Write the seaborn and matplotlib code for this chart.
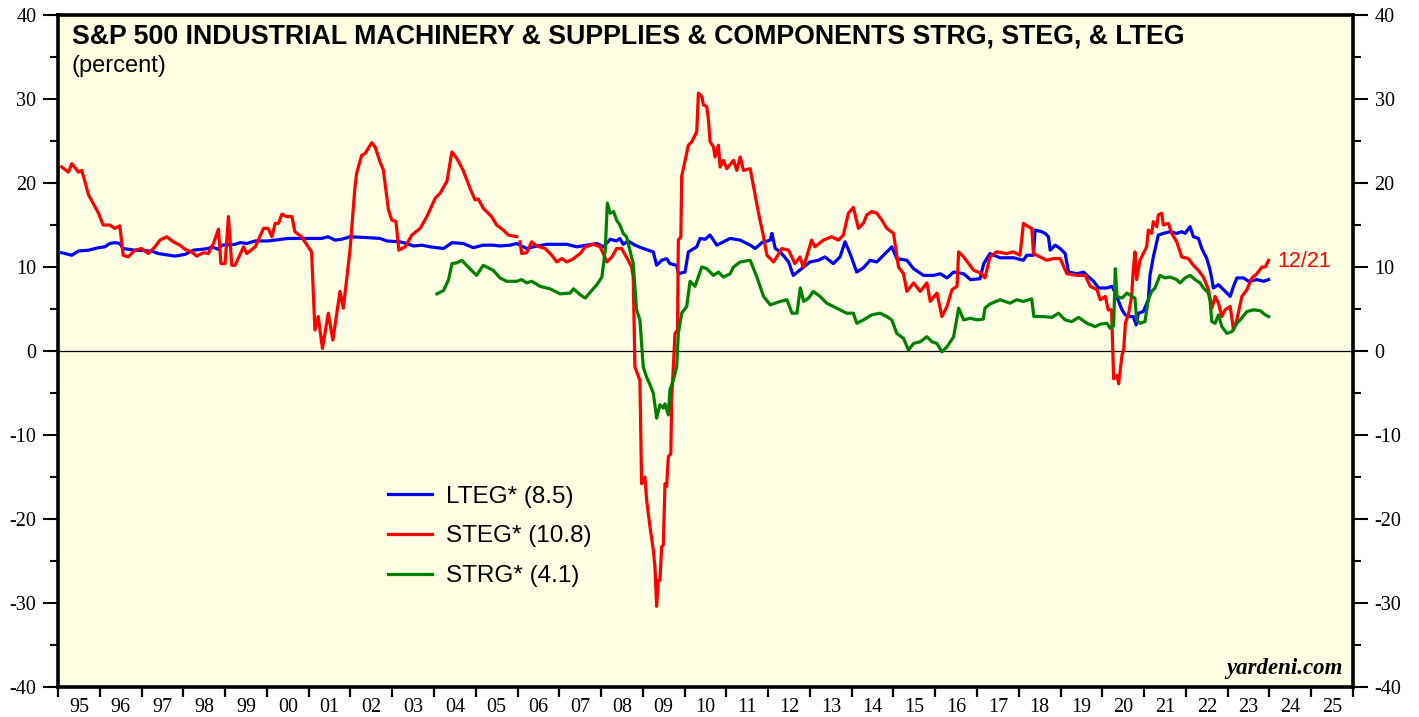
import numpy as np
import pandas as pd
import matplotlib
matplotlib.use('Agg')
import matplotlib.pyplot as plt
import seaborn as sns

# LTEG (blue)
lteg_dates = [1995.09, 1995.33, 1995.49, 1995.73, 1995.97, 1996.12, 1996.24, 1996.36, 1996.48, 1996.56,
              1996.84, 1997.24, 1997.40, 1997.80, 1998.04, 1998.24, 1998.60, 1998.68, 1998.84, 1998.92,
              1999.24, 1999.36, 1999.52, 1999.72, 2000.03, 2000.51, 2001.31, 2001.47, 2001.63, 2001.79,
              2001.99, 2002.40, 2002.71, 2002.87, 2003.18, 2003.35, 2003.51, 2003.71, 2003.91, 2004.23,
              2004.43, 2004.70, 2004.94, 2005.18, 2005.42, 2005.58, 2005.82, 2005.98, 2006.22, 2006.38,
              2006.70, 2007.18, 2007.42, 2007.66, 2007.90, 2008.06, 2008.22, 2008.37, 2008.45, 2008.53,
              2008.65, 2008.81, 2009.01, 2009.25, 2009.33, 2009.45, 2009.57, 2009.65, 2009.81, 2009.85,
              2010.01, 2010.09, 2010.29, 2010.37, 2010.49, 2010.61, 2010.77, 2010.93, 2011.09, 2011.33,
              2011.57, 2011.69, 2011.85, 2012.05, 2012.09, 2012.17, 2012.29, 2012.49, 2012.60, 2012.80,
              2013.00, 2013.20, 2013.36, 2013.56, 2013.72, 2013.84, 2013.96, 2014.12, 2014.28, 2014.44,
              2014.60, 2014.72, 2014.96, 2015.08, 2015.32, 2015.48, 2015.72, 2015.96, 2016.12, 2016.28,
              2016.44, 2016.68, 2016.84, 2017.07, 2017.16, 2017.31, 2017.55, 2017.87, 2018.11, 2018.19,
              2018.35, 2018.39, 2018.55, 2018.63, 2018.71, 2018.75, 2018.87, 2018.99, 2019.11, 2019.19,
              2019.39, 2019.55, 2019.63, 2019.79, 2019.91, 2020.11, 2020.23, 2020.31, 2020.39, 2020.47,
              2020.55, 2020.67, 2020.74, 2020.81, 2020.86, 2020.98, 2021.10, 2021.14, 2021.22, 2021.34,
              2021.46, 2021.62, 2021.78, 2021.90, 2021.98, 2022.10, 2022.18, 2022.30, 2022.38, 2022.50,
              2022.58, 2022.66, 2022.78, 2022.90, 2023.06, 2023.14, 2023.22, 2023.38, 2023.50, 2023.70,
              2023.86, 2023.98]
lteg_vals = [11.7, 11.4, 11.9, 12.0, 12.3, 12.4, 12.8, 12.9, 12.8, 12.2,
             12.0, 11.9, 11.6, 11.3, 11.5, 12.0, 12.2, 12.4, 12.1, 12.6,
             12.7, 12.9, 12.8, 13.1, 13.1, 13.4, 13.4, 13.6, 13.2, 13.3,
             13.6, 13.5, 13.4, 13.1, 13.0, 12.8, 12.5, 12.6, 12.4, 12.2,
             12.9, 12.8, 12.3, 12.6, 12.6, 12.5, 12.6, 12.8, 12.2, 12.4,
             12.7, 12.7, 12.4, 12.6, 12.8, 12.4, 13.3, 13.1, 13.4, 12.7,
             13.1, 12.6, 12.2, 11.8, 10.2, 10.8, 11.0, 10.4, 10.2, 9.2,
             9.4, 11.8, 12.4, 13.4, 13.3, 13.8, 12.6, 13.0, 13.4, 13.2,
             12.6, 12.2, 12.9, 13.2, 14.0, 12.2, 11.8, 10.6, 9.0, 9.8,
             10.6, 10.8, 11.2, 10.4, 11.2, 13.0, 11.6, 9.4, 9.9, 10.8,
             10.6, 11.2, 12.4, 11.0, 10.8, 9.8, 9.0, 9.0, 9.2, 8.7,
             9.4, 9.2, 8.5, 8.6, 10.4, 11.6, 11.1, 11.1, 10.8, 11.4,
             11.4, 14.4, 14.2, 14.0, 13.6, 12.0, 12.6, 12.2, 11.6, 9.4,
             9.2, 9.4, 9.0, 8.3, 7.5, 7.5, 7.7, 6.9, 5.9, 4.9,
             4.3, 4.1, 4.1, 3.1, 4.5, 4.7, 6.1, 9.0, 11.2, 13.8,
             14.0, 14.2, 14.0, 14.2, 14.0, 14.8, 13.6, 13.4, 12.2, 11.0,
             9.6, 7.5, 7.9, 7.3, 6.5, 7.7, 8.7, 8.7, 8.3, 8.5,
             8.3, 8.5]

# STEG (red), first stretch before the break in early 2006
steg_dates_a = [1995.09, 1995.25, 1995.33, 1995.49, 1995.57, 1995.73, 1995.97, 1996.08, 1996.24, 1996.36,
                1996.48, 1996.56, 1996.68, 1996.84, 1997.00, 1997.16, 1997.32, 1997.44, 1997.60, 1997.76,
                1997.92, 1998.04, 1998.20, 1998.32, 1998.48, 1998.60, 1998.72, 1998.84, 1998.90, 1999.00,
                1999.08, 1999.16, 1999.24, 1999.44, 1999.52, 1999.72, 1999.92, 2000.03, 2000.12, 2000.20,
                2000.28, 2000.36, 2000.47, 2000.60, 2000.67, 2000.83, 2000.99, 2001.07, 2001.15, 2001.23,
                2001.33, 2001.47, 2001.58, 2001.75, 2001.83, 2001.99, 2002.11, 2002.15, 2002.27, 2002.35,
                2002.51, 2002.59, 2002.71, 2002.79, 2002.91, 2002.99, 2003.09, 2003.16, 2003.31, 2003.47,
                2003.67, 2003.83, 2004.03, 2004.15, 2004.31, 2004.43, 2004.55, 2004.70, 2004.86, 2004.98,
                2005.06, 2005.18, 2005.38, 2005.50, 2005.66, 2005.78, 2005.98]
steg_vals_a = [21.9, 21.3, 22.3, 21.3, 21.5, 18.6, 16.4, 15.0, 15.0, 14.6,
               14.9, 11.4, 11.2, 12.0, 12.2, 11.6, 12.4, 13.2, 13.6, 13.0,
               12.6, 12.1, 11.8, 11.3, 11.7, 11.6, 12.8, 14.5, 10.4, 10.4,
               16.0, 10.2, 10.2, 12.4, 11.6, 12.4, 14.6, 14.6, 13.6, 15.2,
               15.2, 16.3, 16.0, 16.0, 14.2, 13.6, 12.4, 11.8, 2.5, 4.1,
               0.3, 4.5, 1.3, 7.1, 5.1, 12.0, 19.6, 21.2, 23.3, 23.5,
               24.8, 24.3, 22.5, 21.5, 16.8, 15.6, 15.4, 12.0, 12.4, 13.8,
               14.6, 16.0, 18.2, 18.8, 20.2, 23.7, 22.9, 21.5, 19.4, 18.0,
               18.1, 17.0, 16.0, 15.0, 14.4, 13.8, 13.6]

# STEG (red), second stretch
steg_dates_b = [2006.06, 2006.10, 2006.22, 2006.34, 2006.46, 2006.66, 2006.82, 2006.94, 2007.06, 2007.18,
                2007.34, 2007.50, 2007.62, 2007.82, 2007.98, 2008.14, 2008.26, 2008.37, 2008.49, 2008.65,
                2008.73, 2008.77, 2008.81, 2008.93, 2008.97, 2009.05, 2009.09, 2009.17, 2009.25, 2009.29,
                2009.33, 2009.37, 2009.41, 2009.45, 2009.49, 2009.53, 2009.57, 2009.61, 2009.67, 2009.69,
                2009.73, 2009.77, 2009.83, 2009.85, 2009.91, 2009.93, 2010.09, 2010.17, 2010.29, 2010.33,
                2010.41, 2010.45, 2010.53, 2010.57, 2010.61, 2010.69, 2010.73, 2010.81, 2010.85, 2010.93,
                2011.01, 2011.17, 2011.25, 2011.33, 2011.41, 2011.57, 2011.65, 2011.77, 2011.89, 2011.97,
                2012.13, 2012.33, 2012.49, 2012.64, 2012.76, 2012.84, 2012.92, 2013.04, 2013.12, 2013.32,
                2013.52, 2013.68, 2013.80, 2013.92, 2014.04, 2014.16, 2014.28, 2014.36, 2014.48, 2014.60,
                2014.72, 2014.84, 2015.00, 2015.12, 2015.24, 2015.32, 2015.48, 2015.64, 2015.80, 2015.88,
                2016.04, 2016.16, 2016.28, 2016.40, 2016.52, 2016.56, 2016.68, 2016.80, 2016.92, 2017.08,
                2017.19, 2017.31, 2017.47, 2017.71, 2017.87, 2018.03, 2018.11, 2018.23, 2018.31, 2018.35,
                2018.51, 2018.67, 2018.83, 2018.99, 2019.15, 2019.39, 2019.59, 2019.71, 2019.87, 2019.95,
                2020.07, 2020.14, 2020.22, 2020.27, 2020.35, 2020.39, 2020.47, 2020.51, 2020.55, 2020.63,
                2020.70, 2020.74, 2020.78, 2020.82, 2020.90, 2020.94, 2021.06, 2021.10, 2021.18, 2021.22,
                2021.30, 2021.34, 2021.42, 2021.46, 2021.58, 2021.66, 2021.78, 2021.90, 2022.06, 2022.18,
                2022.30, 2022.42, 2022.54, 2022.62, 2022.70, 2022.78, 2022.86, 2022.94, 2023.06, 2023.14,
                2023.22, 2023.34, 2023.46, 2023.58, 2023.70, 2023.82, 2023.90, 2023.98]
steg_vals_b = [13.0, 11.6, 11.7, 13.0, 12.5, 12.2, 11.4, 10.6, 11.0, 10.6,
               11.0, 11.6, 12.4, 12.7, 12.4, 10.6, 11.2, 12.2, 12.2, 10.8,
               10.0, 8.8, -1.9, -3.5, -15.8, -15.0, -17.7, -20.9, -23.7, -25.7,
               -30.4, -27.3, -27.3, -23.3, -23.1, -15.8, -16.1, -12.6, -12.2, -5.8,
               -1.9, 2.1, 2.5, 13.2, 13.6, 20.8, 24.5, 24.9, 26.1, 30.7,
               30.3, 29.3, 29.1, 27.5, 24.9, 24.3, 23.1, 24.5, 21.9, 22.7,
               21.7, 22.7, 21.5, 23.1, 21.5, 21.7, 19.6, 16.4, 13.6, 11.4,
               10.6, 12.2, 12.0, 10.4, 11.2, 10.0, 11.2, 13.2, 12.4, 13.2,
               13.6, 13.2, 13.8, 16.4, 17.1, 14.6, 15.2, 16.2, 16.6, 16.4,
               15.6, 14.6, 14.0, 10.0, 9.2, 7.1, 8.1, 7.1, 8.1, 5.9,
               6.9, 4.1, 5.3, 7.3, 7.7, 11.8, 11.2, 10.4, 9.6, 9.3,
               8.7, 11.2, 11.8, 11.6, 11.8, 11.4, 15.2, 14.8, 14.6, 11.6,
               11.2, 10.8, 11.0, 11.0, 9.2, 9.0, 9.0, 7.7, 7.3, 6.1,
               6.5, 4.9, 4.9, -3.3, -2.9, -3.9, -0.5, 0.1, 3.3, 4.5,
               6.5, 9.6, 11.8, 8.5, 10.8, 11.2, 12.4, 14.4, 14.0, 15.4,
               14.8, 16.2, 16.4, 15.0, 15.2, 14.0, 13.0, 11.2, 11.0, 10.2,
               9.6, 8.8, 7.3, 5.1, 6.5, 5.7, 4.1, 4.9, 5.3, 2.5,
               3.7, 6.5, 7.3, 8.7, 9.2, 10.0, 10.0, 10.8]

# STRG (green)
strg_dates = [2004.07, 2004.23, 2004.35, 2004.43, 2004.55, 2004.67, 2004.78, 2005.02, 2005.18, 2005.42,
              2005.58, 2005.74, 2005.98, 2006.10, 2006.22, 2006.34, 2006.54, 2006.78, 2007.02, 2007.26,
              2007.34, 2007.50, 2007.62, 2007.74, 2007.90, 2008.02, 2008.10, 2008.15, 2008.22, 2008.30,
              2008.37, 2008.45, 2008.53, 2008.61, 2008.69, 2008.77, 2008.85, 2008.93, 2009.01, 2009.09,
              2009.17, 2009.25, 2009.33, 2009.41, 2009.49, 2009.53, 2009.61, 2009.65, 2009.73, 2009.81,
              2009.85, 2009.93, 2010.05, 2010.13, 2010.25, 2010.41, 2010.53, 2010.69, 2010.81, 2010.93,
              2011.09, 2011.17, 2011.33, 2011.57, 2011.73, 2011.89, 2012.05, 2012.29, 2012.45, 2012.57,
              2012.69, 2012.77, 2012.85, 2012.97, 2013.08, 2013.24, 2013.40, 2013.64, 2013.88, 2014.04,
              2014.12, 2014.28, 2014.48, 2014.68, 2014.84, 2014.96, 2015.08, 2015.24, 2015.36, 2015.48,
              2015.64, 2015.80, 2015.92, 2016.04, 2016.16, 2016.28, 2016.44, 2016.56, 2016.68, 2016.84,
              2017.00, 2017.15, 2017.19, 2017.31, 2017.55, 2017.79, 2017.95, 2018.11, 2018.31, 2018.36,
              2018.59, 2018.79, 2018.95, 2019.11, 2019.27, 2019.43, 2019.63, 2019.83, 2019.95, 2020.11,
              2020.19, 2020.27, 2020.31, 2020.35, 2020.47, 2020.59, 2020.71, 2020.78, 2020.82, 2020.90,
              2021.02, 2021.10, 2021.18, 2021.26, 2021.38, 2021.50, 2021.62, 2021.78, 2021.86, 2021.98,
              2022.10, 2022.22, 2022.34, 2022.42, 2022.54, 2022.58, 2022.62, 2022.70, 2022.78, 2022.86,
              2022.98, 2023.10, 2023.22, 2023.30, 2023.46, 2023.62, 2023.78, 2023.90, 2023.98]
strg_vals = [6.8, 7.2, 8.5, 10.4, 10.5, 10.8, 10.2, 9.0, 10.2, 9.6,
             8.7, 8.3, 8.3, 8.5, 8.1, 8.3, 7.7, 7.4, 6.8, 6.9,
             7.4, 6.7, 6.3, 7.0, 7.9, 8.8, 12.0, 17.6, 16.4, 16.6,
             15.6, 15.0, 14.0, 13.6, 12.0, 10.4, 4.9, 3.7, -1.9, -3.1,
             -4.0, -5.0, -8.0, -6.4, -6.8, -6.3, -7.6, -4.6, -3.5, -1.9,
             2.1, 4.5, 5.3, 8.3, 7.7, 10.0, 9.8, 9.0, 9.4, 8.8,
             9.2, 10.0, 10.6, 10.8, 8.8, 6.5, 5.5, 5.9, 6.1, 4.5,
             4.5, 7.5, 5.9, 6.3, 7.1, 6.5, 5.7, 5.1, 4.5, 4.5,
             3.3, 3.7, 4.3, 4.5, 4.1, 3.7, 2.1, 1.5, 0.1, 0.9,
             1.1, 1.7, 1.1, 0.9, -0.1, 0.5, 1.7, 5.1, 3.7, 3.9,
             3.7, 3.8, 5.1, 5.6, 6.1, 5.7, 6.1, 5.9, 6.2, 4.1,
             4.1, 4.0, 4.5, 3.7, 3.5, 4.0, 3.3, 2.9, 3.2, 3.3,
             2.7, 3.0, 9.8, 6.5, 6.3, 6.9, 6.5, 6.3, 3.7, 3.3,
             3.5, 6.1, 7.1, 7.5, 9.0, 8.7, 8.8, 8.5, 8.1, 8.7,
             9.0, 8.5, 8.1, 7.5, 6.9, 5.9, 3.5, 3.3, 4.3, 2.9,
             2.1, 2.3, 3.3, 3.7, 4.7, 4.9, 4.8, 4.3, 4.1]

year_labels = ['95', '96', '97', '98', '99', '00', '01', '02', '03', '04', '05', '06', '07', '08', '09',
               '10', '11', '12', '13', '14', '15', '16', '17', '18', '19', '20', '21', '22', '23', '24', '25']

series_names = ['LTEG* (8.5)', 'STEG* (10.8)', 'STRG* (4.1)']
colors = ['#0000ff', '#ff0000', '#008000']

# long table, one "seg" per unbroken stretch of line
df = pd.concat([
    pd.DataFrame({'date': lteg_dates, 'value': lteg_vals, 'series': series_names[0], 'seg': 0}),
    pd.DataFrame({'date': steg_dates_a, 'value': steg_vals_a, 'series': series_names[1], 'seg': 1}),
    pd.DataFrame({'date': steg_dates_b, 'value': steg_vals_b, 'series': series_names[1], 'seg': 2}),
    pd.DataFrame({'date': strg_dates, 'value': strg_vals, 'series': series_names[2], 'seg': 3}),
], ignore_index=True)

plt.rcParams['font.family'] = ['Liberation Sans', 'DejaVu Sans']
plt.rcParams['axes.unicode_minus'] = False

fig = plt.figure(figsize=(14.19, 7.17), dpi=100)
ax = fig.add_axes([58 / 1419, 30 / 717, 1295 / 1419, 672 / 717])
ax.set_facecolor('#ffffe4')

sns.lineplot(data=df, x='date', y='value', hue='series', units='seg', estimator=None,
             hue_order=series_names, palette=dict(zip(series_names, colors)),
             linewidth=2.3, sort=False, ax=ax)

ax.axhline(0, color='black', lw=0.9, zorder=1)

ax.set_xlim(1995, 2026)
ax.set_ylim(-40, 40)
ax.set_xlabel('')
ax.set_ylabel('')

# x: year boundaries as ticks, labels centred in each year
ax.set_xticks(np.arange(1995, 2027))
ax.set_xticklabels([])
ax.set_xticks(np.arange(1995.5, 2026, 1.0), minor=True)
ax.set_xticklabels(year_labels, minor=True)
ax.tick_params(axis='x', which='major', direction='out', length=7, width=1.6, color='black')
ax.tick_params(axis='x', which='minor', length=0, pad=8, labelsize=14.5,
               labelfontfamily='Liberation Serif')

# y: both sides
ax.set_yticks(np.arange(-40, 41, 10))
ax.set_yticks(np.arange(-35, 40, 10), minor=True)
ax.tick_params(axis='y', which='both', direction='out', left=True, right=True,
               labelleft=True, labelright=True, width=1.5, color='black')
ax.tick_params(axis='y', which='major', length=10.5, pad=5, labelsize=14.5,
               labelfontfamily='Liberation Serif')
ax.tick_params(axis='y', which='minor', length=5.5)

for s in ax.spines.values():
    s.set_visible(True)
    s.set_color('black')
    s.set_linewidth(2.6)

ax.text(0.0108, 0.9583, 'S&P 500 INDUSTRIAL MACHINERY & SUPPLIES & COMPONENTS STRG, STEG, & LTEG',
        transform=ax.transAxes, ha='left', va='baseline', fontsize=19.3, fontweight='bold')
ax.text(0.0108, 0.9152, '(percent)', transform=ax.transAxes, ha='left', va='baseline', fontsize=17)

ax.text(2024.18, 10.6, '12/21', color='#ff0000', fontsize=15.5, ha='left', va='center')

ax.text(0.9923, 0.012, 'yardeni.com', transform=ax.transAxes, ha='right', va='bottom',
        fontsize=16.5, fontweight='bold', style='italic', family='Liberation Serif')

ax.legend(frameon=False, loc='upper left', bbox_to_anchor=(0.2548, 0.2996),
          fontsize=17.5, handlelength=1.8, handletextpad=0.6, labelspacing=0.73,
          borderpad=0, borderaxespad=0)

fig.savefig('out.png', dpi=100)
